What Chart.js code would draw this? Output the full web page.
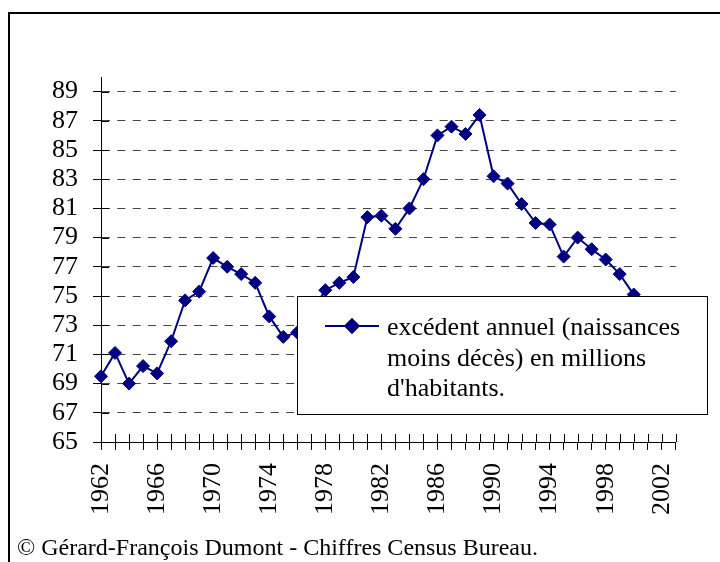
<!DOCTYPE html>
<html>
<head>
<meta charset="utf-8">
<script src="https://cdn.jsdelivr.net/npm/chart.js@4/dist/chart.umd.min.js"></script>
<style>
  body { margin: 0; background: #fff; }
  #wrap { width: 720px; height: 562px; }
</style>
</head>
<body>
<div id="wrap"><canvas id="myChart" width="720" height="562"></canvas></div>
<script>
// data block
const years = ['1962', '1963', '1964', '1965', '1966', '1967', '1968', '1969', '1970', '1971',
    '1972', '1973', '1974', '1975', '1976', '1977', '1978', '1979', '1980', '1981',
    '1982', '1983', '1984', '1985', '1986', '1987', '1988', '1989', '1990', '1991',
    '1992', '1993', '1994', '1995', '1996', '1997', '1998', '1999', '2000', '2001',
    '2002', '2003'];
const excedent = [69.5, 71.1, 69.0, 70.2, 69.7, 71.9, 74.7, 75.3, 77.6, 77.0,
    76.5, 75.9, 73.6, 72.2, 72.5, 73.9, 75.4, 75.9, 76.3, 80.4,
    80.5, 79.6, 81.0, 83.0, 86.0, 86.6, 86.1, 87.4, 83.2, 82.7,
    81.3, 80.0, 79.9, 77.7, 79.0, 78.2, 77.5, 76.5, 75.1, 74.0,
    73.6, 73.3];
const xTickLabels = ['1962', '1966', '1970', '1974', '1978', '1982', '1986', '1990', '1994', '1998', '2002'];
const yTickLabels = [65, 67, 69, 71, 73, 75, 77, 79, 81, 83, 85, 87, 89];
const legendLines = ['excédent annuel (naissances', 'moins décès) en millions', "d'habitants."];
const footer = '© Gérard-François Dumont - Chiffres Census Bureau.';

const serif = '"Liberation Serif", "Times New Roman", serif';
const navy = '#000080';

// extra drawing: frame, crossing ticks, legend box over the plot, footer
const decor = {
    id: 'decor',
    beforeDraw(chart) {
        const ctx = chart.ctx;
        ctx.save();
        ctx.fillStyle = '#fff';
        ctx.fillRect(0, 0, chart.width, chart.height);
        ctx.restore();
    },
    beforeDatasetsDraw(chart) {
        const { ctx, chartArea, scales: { x, y } } = chart;
        ctx.save();
        ctx.strokeStyle = '#000';
        ctx.lineWidth = 1;
        ctx.beginPath();
        x.ticks.forEach((t, i) => {
            const px = Math.round(x.getPixelForTick(i)) + 0.5;
            ctx.moveTo(px, chartArea.bottom - 8);
            ctx.lineTo(px, chartArea.bottom);
        });
        y.ticks.forEach((t, i) => {
            const py = Math.round(y.getPixelForTick(i)) + 0.5;
            ctx.moveTo(chartArea.left, py);
            ctx.lineTo(chartArea.left + 8, py);
        });
        ctx.stroke();
        ctx.restore();
    },
    afterDatasetsDraw(chart) {
        const ctx = chart.ctx;
        const ds = chart.data.datasets[0];
        ctx.save();
        // legend box
        ctx.fillStyle = '#fff';
        ctx.fillRect(297, 296, 411, 119);
        ctx.strokeStyle = '#000';
        ctx.lineWidth = 1;
        ctx.strokeRect(297.5, 296.5, 410, 118);
        // legend marker
        ctx.strokeStyle = navy;
        ctx.lineWidth = 2;
        ctx.beginPath();
        ctx.moveTo(325, 326);
        ctx.lineTo(379, 326);
        ctx.stroke();
        Chart.helpers.drawPoint(ctx, {
            pointStyle: 'rectRot', radius: ds.pointRadius, borderWidth: 1
        }, 352, 326);
        ctx.fillStyle = navy;
        ctx.fill();
        ctx.stroke();
        // legend text
        ctx.fillStyle = '#000';
        ctx.font = '26px ' + serif;
        ctx.textBaseline = 'alphabetic';
        legendLines.forEach((line, i) => ctx.fillText(line, 387, 335 + i * 30.5));
        ctx.restore();
    },
    afterDraw(chart) {
        const ctx = chart.ctx;
        ctx.save();
        ctx.fillStyle = '#000';
        ctx.font = '24px ' + serif;
        ctx.textBaseline = 'alphabetic';
        ctx.fillText(footer, 17, 555);
        ctx.strokeStyle = '#000';
        ctx.lineWidth = 2;
        ctx.beginPath();
        ctx.moveTo(9, chart.height + 2);
        ctx.lineTo(9, 13);
        ctx.lineTo(chart.width + 2, 13);
        ctx.stroke();
        ctx.restore();
    }
};

Chart.defaults.font.family = serif;
Chart.defaults.font.size = 26;
Chart.defaults.color = '#000';

// config block
const config = {
    type: 'line',
    data: {
        labels: years,
        datasets: [{
            label: legendLines.join(' '),
            data: excedent,
            borderColor: navy,
            backgroundColor: navy,
            borderWidth: 2,
            pointStyle: 'rectRot',
            pointRadius: 6.5,
            pointBorderWidth: 1,
            pointBorderColor: navy,
            pointBackgroundColor: navy,
            tension: 0
        }]
    },
    options: {
        responsive: false,
        animation: false,
        layout: { padding: { top: 77, right: 44, left: 0, bottom: 0 } },
        plugins: {
            legend: { display: false },
            tooltip: { enabled: false }
        },
        scales: {
            x: {
                offset: false,
                afterFit: s => { s.height = 120; },
                grid: {
                    drawOnChartArea: false,
                    drawTicks: true,
                    tickLength: 8,
                    tickColor: '#000'
                },
                border: { display: true, color: '#000', width: 1 },
                ticks: {
                    autoSkip: false,
                    minRotation: 90,
                    maxRotation: 90,
                    padding: 13,
                    callback: function (v) {
                        const lab = this.getLabelForValue(v);
                        return xTickLabels.includes(lab) ? lab : '';
                    }
                }
            },
            y: {
                min: 65,
                max: 90,
                afterFit: s => { s.width = 101; },
                afterBuildTicks: s => { s.ticks = yTickLabels.map(v => ({ value: v })); },
                grid: {
                    color: '#444',
                    lineWidth: 1,
                    tickLength: 8,
                    tickColor: '#000'
                },
                border: { display: true, color: '#000', width: 1, dash: [8, 7.35] },
                ticks: { padding: 15, autoSkip: false }
            }
        }
    },
    plugins: [decor]
};

// init render block
const myChart = new Chart(document.getElementById('myChart'), config);
</script>
</body>
</html>
